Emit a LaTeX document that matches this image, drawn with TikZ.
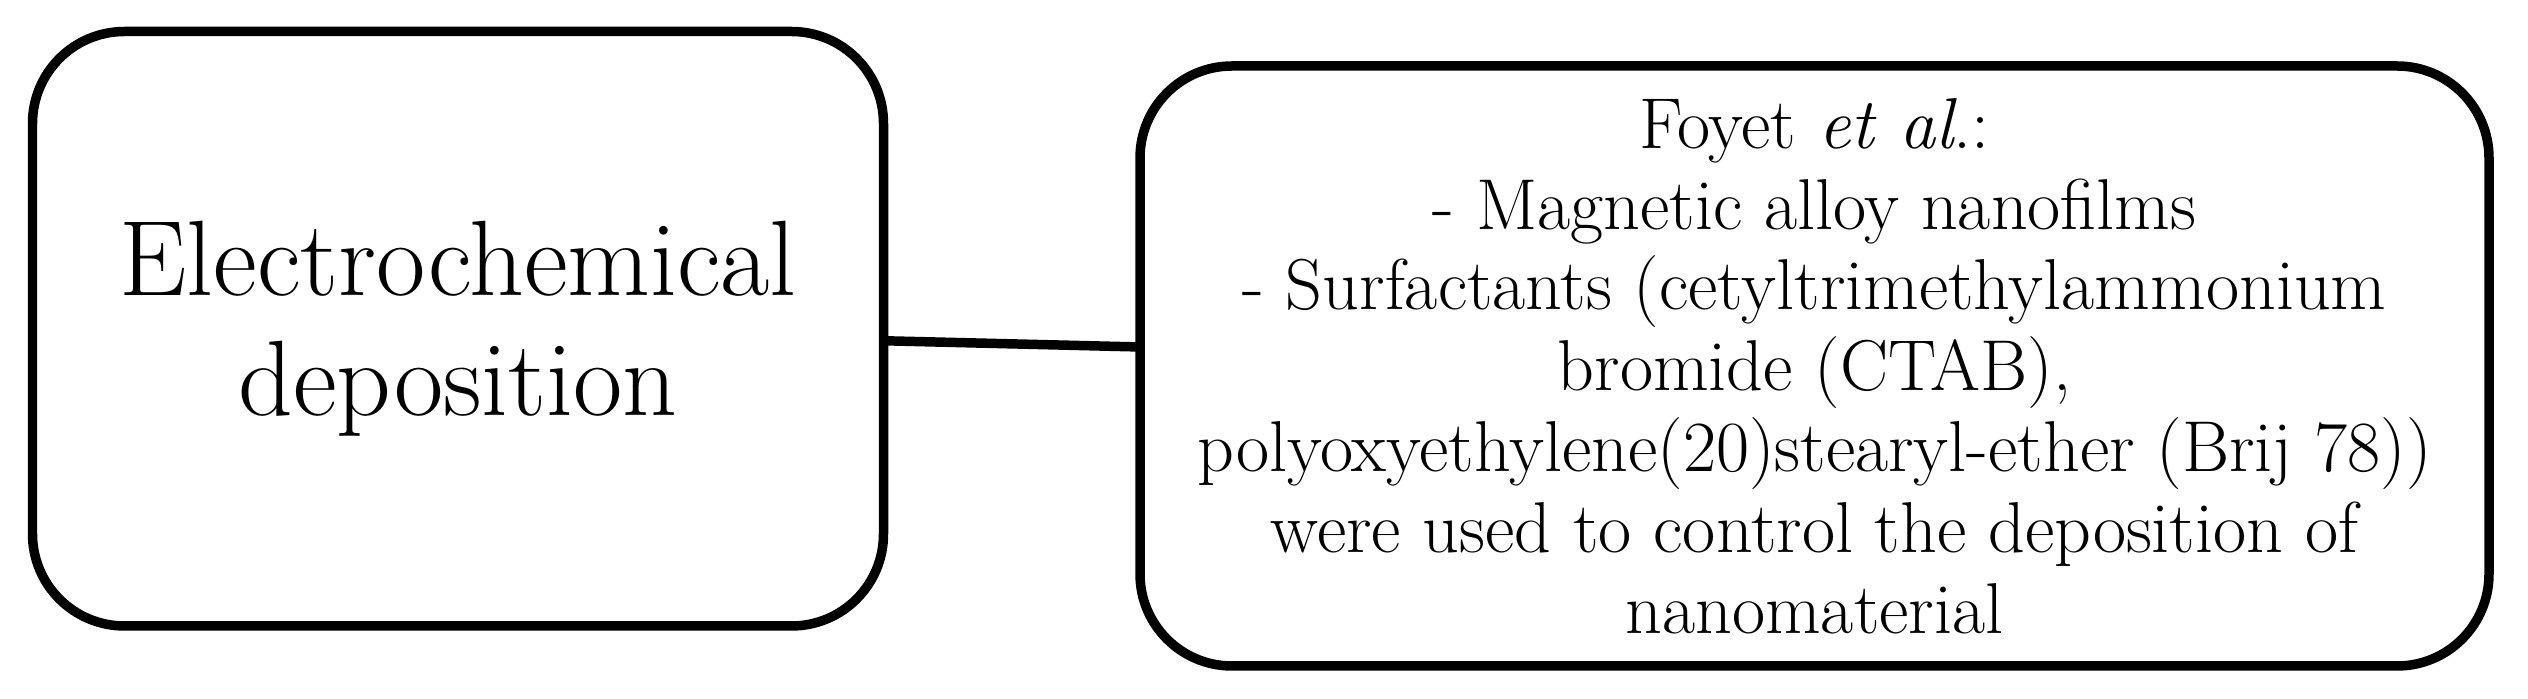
\documentclass[tikz,border=0pt]{standalone}
\begin{document}
\begin{tikzpicture}[x=1cm,y=1cm,
  box/.style={draw=black, line width=2.7pt, rounded corners=0.92cm, rectangle, align=center, inner sep=0pt, outer sep=0pt, fill=white},
  bigtext/.style={font=\fontsize{30.5}{34.1}\selectfont},
  smalltext/.style={font=\fontsize{20.5}{22.98}\selectfont},
  link/.style={line width=2.7pt}]
\useasboundingbox (0,0) rectangle (25.28,6.99);
\node[box, bigtext, minimum width=8.51cm, minimum height=5.945cm] (L) at (4.58,3.7025) {Electrochemical\\deposition};
\node[box, smalltext, minimum width=13.49cm, minimum height=6.0cm] (R) at (18.145,3.33) {Foyet \textit{et al}.:\\- Magnetic alloy nanofilms\\- Surfactants (cetyltrimethylammonium\\bromide (CTAB),\\polyoxyethylene(20)stearyl-ether (Brij 78))\\were used to control the deposition of\\nanomaterial};
\draw[link] ([yshift=-0.12cm]L.east) -- ([yshift=0.19cm]R.west);
\end{tikzpicture}
\end{document}
